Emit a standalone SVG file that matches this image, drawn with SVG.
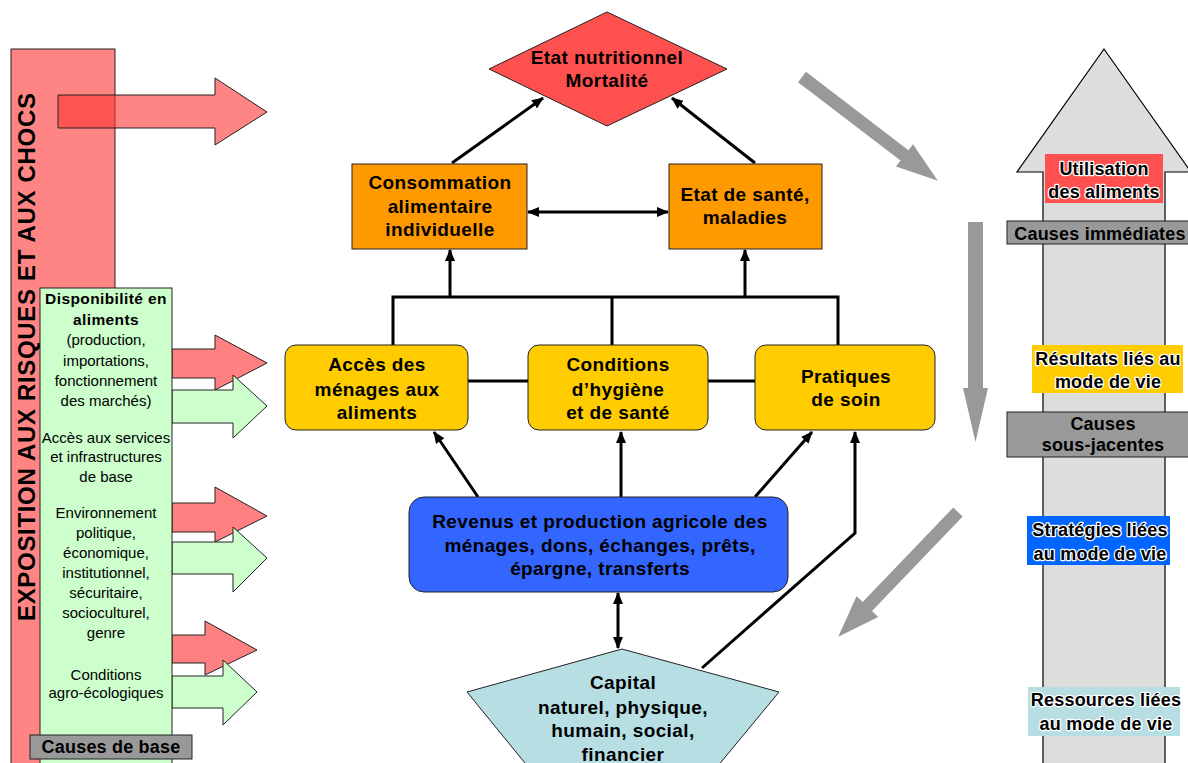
<svg xmlns="http://www.w3.org/2000/svg" width="1188" height="763" viewBox="0 0 1188 763">
<style>
text{font-family:"Liberation Sans",Arial,sans-serif;fill:#000}
.b{font-weight:bold;font-size:19px;letter-spacing:0.4px;text-anchor:middle}
.g{font-size:15px;text-anchor:middle}
.gb{font-size:15.5px;font-weight:bold;letter-spacing:0.4px;text-anchor:middle}
.lab{font-weight:bold;font-size:18px;letter-spacing:0.2px;text-anchor:middle}
.halo{stroke:#fff;stroke-width:2.5px;paint-order:stroke;stroke-linejoin:round}
.ln{stroke:#000;stroke-width:3;fill:none}
.sh{stroke:#222;stroke-width:1}
.flow{fill:#999}
</style>
<defs>
<marker id="ah" markerWidth="12" markerHeight="10" refX="11" refY="5" orient="auto-start-reverse" markerUnits="userSpaceOnUse">
<path d="M0,0 L12,5 L0,10 Z" fill="#000"/>
</marker>
</defs>
<rect width="1188" height="763" fill="#fff"/>

<g id="exposition">
<rect x="11" y="49" width="104" height="730" fill="#ff8585" class="sh"/>
<polygon points="58,95 215,95 215,78 267,112 215,145 215,128 58,128" fill="#ff3333" fill-opacity="0.6" class="sh"/>
<text transform="translate(35,357) rotate(-90)" text-anchor="middle" font-weight="bold" font-size="24" fill="#222" textLength="528" lengthAdjust="spacing">EXPOSITION AUX RISQUES ET AUX CHOCS</text>
</g>

<g id="causes-base">
<polygon points="172,349 215,349 215,335 267,363 215,390 215,378 172,378" fill="#ff8080" class="sh"/>
<polygon points="172,390 233,390 233,375 267,406 233,438 233,423 172,423" fill="#ccffcc" class="sh"/>
<polygon points="172,503 215,503 215,487 267,516 215,542 215,532 172,532" fill="#ff8080" class="sh"/>
<polygon points="172,542 233,542 233,527 267,558 233,592 233,574 172,574" fill="#ccffcc" class="sh"/>
<polygon points="172,635 205,635 205,621 257,650 205,675 205,663 172,663" fill="#ff8080" class="sh"/>
<polygon points="172,676 223,676 223,660 257,692 223,725 223,708 172,708" fill="#ccffcc" class="sh"/>
<rect x="40" y="288" width="132" height="490" fill="#ccffcc" class="sh"/>
<text class="gb" x="106" y="304">Disponibilité en</text>
<text class="gb" x="106" y="325">aliments</text>
<text class="g" x="106" y="345">(production,</text>
<text class="g" x="106" y="366">importations,</text>
<text class="g" x="106" y="386">fonctionnement</text>
<text class="g" x="106" y="406">des marchés)</text>
<text class="g" x="106" y="443">Accès aux services</text>
<text class="g" x="106" y="462">et infrastructures</text>
<text class="g" x="106" y="482">de base</text>
<text class="g" x="106" y="518">Environnement</text>
<text class="g" x="106" y="538">politique,</text>
<text class="g" x="106" y="558">économique,</text>
<text class="g" x="106" y="578">institutionnel,</text>
<text class="g" x="106" y="598">sécuritaire,</text>
<text class="g" x="106" y="618">socioculturel,</text>
<text class="g" x="106" y="638">genre</text>
<text class="g" x="106" y="680">Conditions</text>
<text class="g" x="106" y="698">agro-écologiques</text>
<rect x="30" y="735" width="162" height="24" fill="#999" class="sh"/>
<text class="lab" x="111" y="753">Causes de base</text>
</g>

<g id="connectors">
<line class="ln" x1="452" y1="163" x2="543" y2="98" marker-end="url(#ah)"/>
<line class="ln" x1="755" y1="163" x2="672" y2="98" marker-end="url(#ah)"/>
<line class="ln" x1="528" y1="212" x2="668" y2="212" marker-start="url(#ah)" marker-end="url(#ah)"/>
<polyline class="ln" points="393,345 393,297 838,297 838,345"/>
<line class="ln" x1="612" y1="297" x2="612" y2="345"/>
<line class="ln" x1="450" y1="297" x2="450" y2="250" marker-end="url(#ah)"/>
<line class="ln" x1="745" y1="297" x2="745" y2="250" marker-end="url(#ah)"/>
<line class="ln" x1="468" y1="381" x2="528" y2="381"/>
<line class="ln" x1="708" y1="381" x2="755" y2="381"/>
<line class="ln" x1="478" y1="497" x2="434" y2="432" marker-end="url(#ah)"/>
<line class="ln" x1="621" y1="497" x2="621" y2="432" marker-end="url(#ah)"/>
<line class="ln" x1="755" y1="497" x2="812" y2="432" marker-end="url(#ah)"/>
<line class="ln" x1="618" y1="593" x2="618" y2="648" marker-start="url(#ah)" marker-end="url(#ah)"/>
<polyline class="ln" points="702,668 855,533 855,432" marker-end="url(#ah)"/>
</g>

<g id="etat-nutritionnel">
<polygon points="607,12 727,69 607,126 489,69" fill="#ff5050" class="sh"/>
<text class="b" x="607" y="64">Etat nutritionnel</text>
<text class="b" x="607" y="87">Mortalité</text>
</g>

<g id="consommation">
<rect x="352" y="164" width="175" height="85" fill="#ff9900" class="sh"/>
<text class="b" x="440" y="189">Consommation</text>
<text class="b" x="440" y="213">alimentaire</text>
<text class="b" x="440" y="236">individuelle</text>
</g>

<g id="etat-sante">
<rect x="669" y="164" width="153" height="85" fill="#ff9900" class="sh"/>
<text class="b" x="745" y="201">Etat de santé,</text>
<text class="b" x="745" y="224">maladies</text>
</g>

<g id="acces">
<rect x="285" y="345" width="183" height="85" rx="11" fill="#ffcc00" class="sh"/>
<text class="b" x="377" y="371">Accès des</text>
<text class="b" x="377" y="396">ménages aux</text>
<text class="b" x="377" y="419">aliments</text>
</g>

<g id="hygiene">
<rect x="528" y="345" width="180" height="85" rx="11" fill="#ffcc00" class="sh"/>
<text class="b" x="618" y="371">Conditions</text>
<text class="b" x="618" y="396">d’hygiène</text>
<text class="b" x="618" y="419">et de santé</text>
</g>

<g id="soin">
<rect x="755" y="345" width="180" height="85" rx="11" fill="#ffcc00" class="sh"/>
<text class="b" x="846" y="383">Pratiques</text>
<text class="b" x="846" y="406">de soin</text>
</g>

<g id="revenus">
<rect x="409" y="497" width="379" height="95" rx="15" fill="#3366ff" class="sh"/>
<text class="b" x="600" y="528">Revenus et production agricole des</text>
<text class="b" x="600" y="552">ménages, dons, échanges, prêts,</text>
<text class="b" x="600" y="575">épargne, transferts</text>
</g>

<g id="capital">
<polygon points="622,649 779,692 698,790 547,790 467,692" fill="#b7dfe3" class="sh"/>
<text class="b" x="623" y="689">Capital</text>
<text class="b" x="623" y="714">naturel, physique,</text>
<text class="b" x="623" y="737">humain, social,</text>
<text class="b" x="623" y="761">financier</text>
</g>

<g id="flow-arrows">
<polygon class="flow" transform="translate(802,77) rotate(37.4)" points="0,-6.5 129,-6.5 129,-14 171,0 129,14 129,6.5 0,6.5"/>
<polygon class="flow" points="968,222 983,222 983,388 988,388 975.5,442 963,388 968,388"/>
<polygon class="flow" transform="translate(958,512) rotate(133.8)" points="0,-6.5 131,-6.5 131,-15 173,0 131,15 131,6.5 0,6.5"/>
</g>

<g id="niveaux">
<polygon points="1104,49 1191,172 1165,172 1165,800 1043,800 1043,172 1017,172" fill="#ddd" stroke="#000" stroke-width="1.2"/>
<rect x="1045" y="154" width="118" height="49" fill="#ff5050"/>
<text class="lab halo" x="1104" y="175">Utilisation</text>
<text class="lab halo" x="1104" y="198">des aliments</text>
<rect x="1007" y="221" width="190" height="23" fill="#999" class="sh"/>
<text class="lab" x="1100" y="240">Causes immédiates</text>
<rect x="1032" y="345" width="151" height="48" fill="#ffcc00"/>
<text class="lab halo" x="1108" y="365">Résultats liés au</text>
<text class="lab halo" x="1108" y="388">mode de vie</text>
<rect x="1007" y="412" width="190" height="45" fill="#999" class="sh"/>
<text class="lab" x="1103" y="430">Causes</text>
<text class="lab" x="1103" y="451">sous-jacentes</text>
<rect x="1027" y="516" width="143" height="49" fill="#0066ff"/>
<text class="lab halo" x="1100" y="536">Stratégies liées</text>
<text class="lab halo" x="1100" y="560">au mode de vie</text>
<rect x="1028" y="687" width="152" height="49" fill="#b7dfe3"/>
<text class="lab halo" x="1106" y="706">Ressources liées</text>
<text class="lab halo" x="1106" y="730">au mode de vie</text>
</g>
</svg>
